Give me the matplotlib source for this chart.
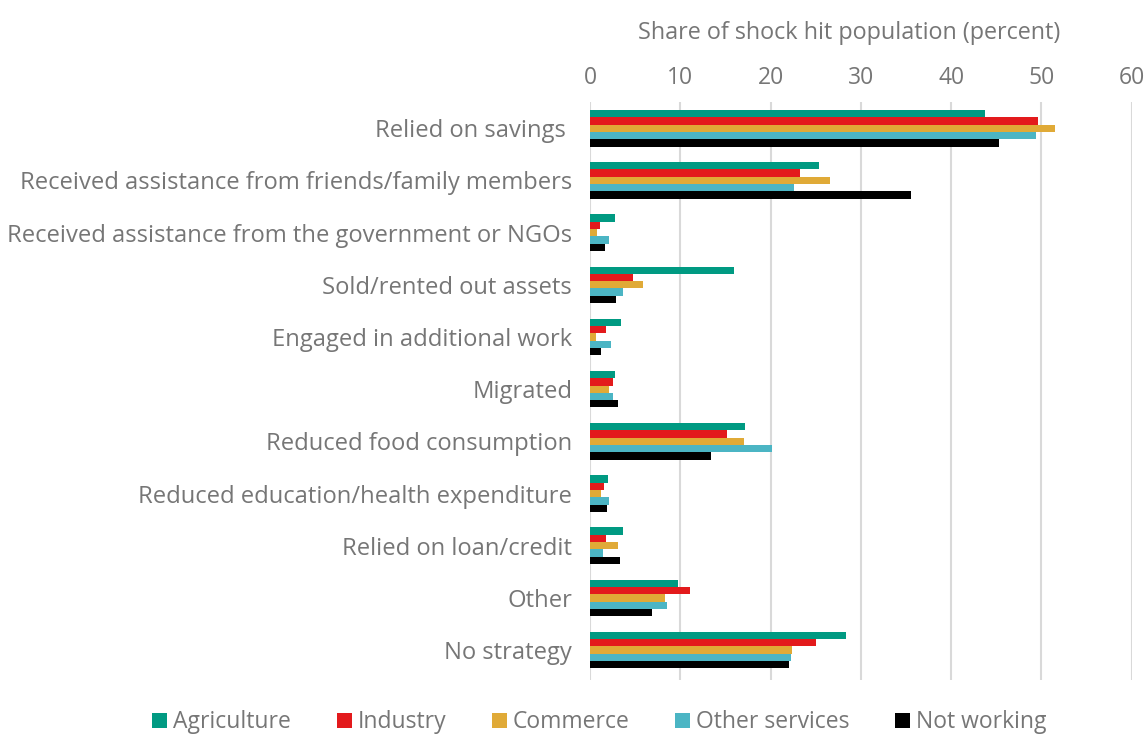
import numpy as np
import matplotlib.pyplot as plt

plt.rcParams['font.family'] = ['Open Sans', 'DejaVu Sans']

# --- data ---
strategies = [
    "Relied on savings ",
    "Received assistance from friends/family members",
    "Received assistance from the government or NGOs",
    "Sold/rented out assets",
    "Engaged in additional work",
    "Migrated",
    "Reduced food consumption",
    "Reduced education/health expenditure",
    "Relied on loan/credit",
    "Other",
    "No strategy",
]
agriculture = [43.8, 25.4, 2.8, 15.9, 3.4, 2.7, 17.2, 2.0, 3.6, 9.7, 28.3]
industry = [49.6, 23.3, 1.1, 4.7, 1.8, 2.5, 15.2, 1.5, 1.8, 11.1, 25.0]
commerce = [51.5, 26.6, 0.8, 5.9, 0.6, 2.1, 17.0, 1.2, 3.1, 8.3, 22.4]
other_services = [49.4, 22.6, 2.1, 3.6, 2.3, 2.5, 20.2, 2.05, 1.4, 8.5, 22.2]
not_working = [45.3, 35.6, 1.6, 2.9, 1.2, 3.1, 13.4, 1.9, 3.3, 6.85, 22.0]

series_names = ["Agriculture", "Industry", "Commerce", "Other services", "Not working"]
series_vals = [agriculture, industry, commerce, other_services, not_working]
colors = ["#009a82", "#e31a1c", "#e0aa37", "#4bb5c4", "#000000"]

text_grey = "#767676"

fig = plt.figure(figsize=(11.46, 7.35), dpi=100)
ax = fig.add_axes([0.515, 0.075, 0.4725, 0.786])

y = np.arange(len(strategies))
bar_h = 0.14
for i, (name, vals, col) in enumerate(zip(series_names, series_vals, colors)):
    offset = (i - 2) * bar_h
    ax.barh(y + offset, vals, height=bar_h, color=col, label=name, zorder=3)

ax.set_xlim(0, 60)
ax.set_ylim(10.57, -0.5)
ax.set_xticks(range(0, 61, 10))
ax.xaxis.tick_top()
ax.tick_params(axis='x', length=0, labelsize=16.5, labelcolor=text_grey, pad=8.5)
ax.set_yticks(y)
ax.set_yticklabels(strategies, fontsize=17.1, color=text_grey)
ax.tick_params(axis='y', length=0, pad=13)

# axis title sits above the tick labels
fig.text(0.741, 0.955, "Share of shock hit population (percent)", fontsize=16.8,
         color=text_grey, ha='center', va='center')

ax.grid(axis='x', color='#d9d9d9', linewidth=1.5, zorder=0)
for s in ['top', 'right', 'bottom', 'left']:
    ax.spines[s].set_visible(False)

fig.legend(loc='lower center', bbox_to_anchor=(0.523, -0.027), ncol=5,
           frameon=False, fontsize=16.5, labelcolor=text_grey,
           handlelength=0.65, handleheight=0.65, handletextpad=0.25,
           columnspacing=2.0)

fig.savefig("out.png", dpi=100)
